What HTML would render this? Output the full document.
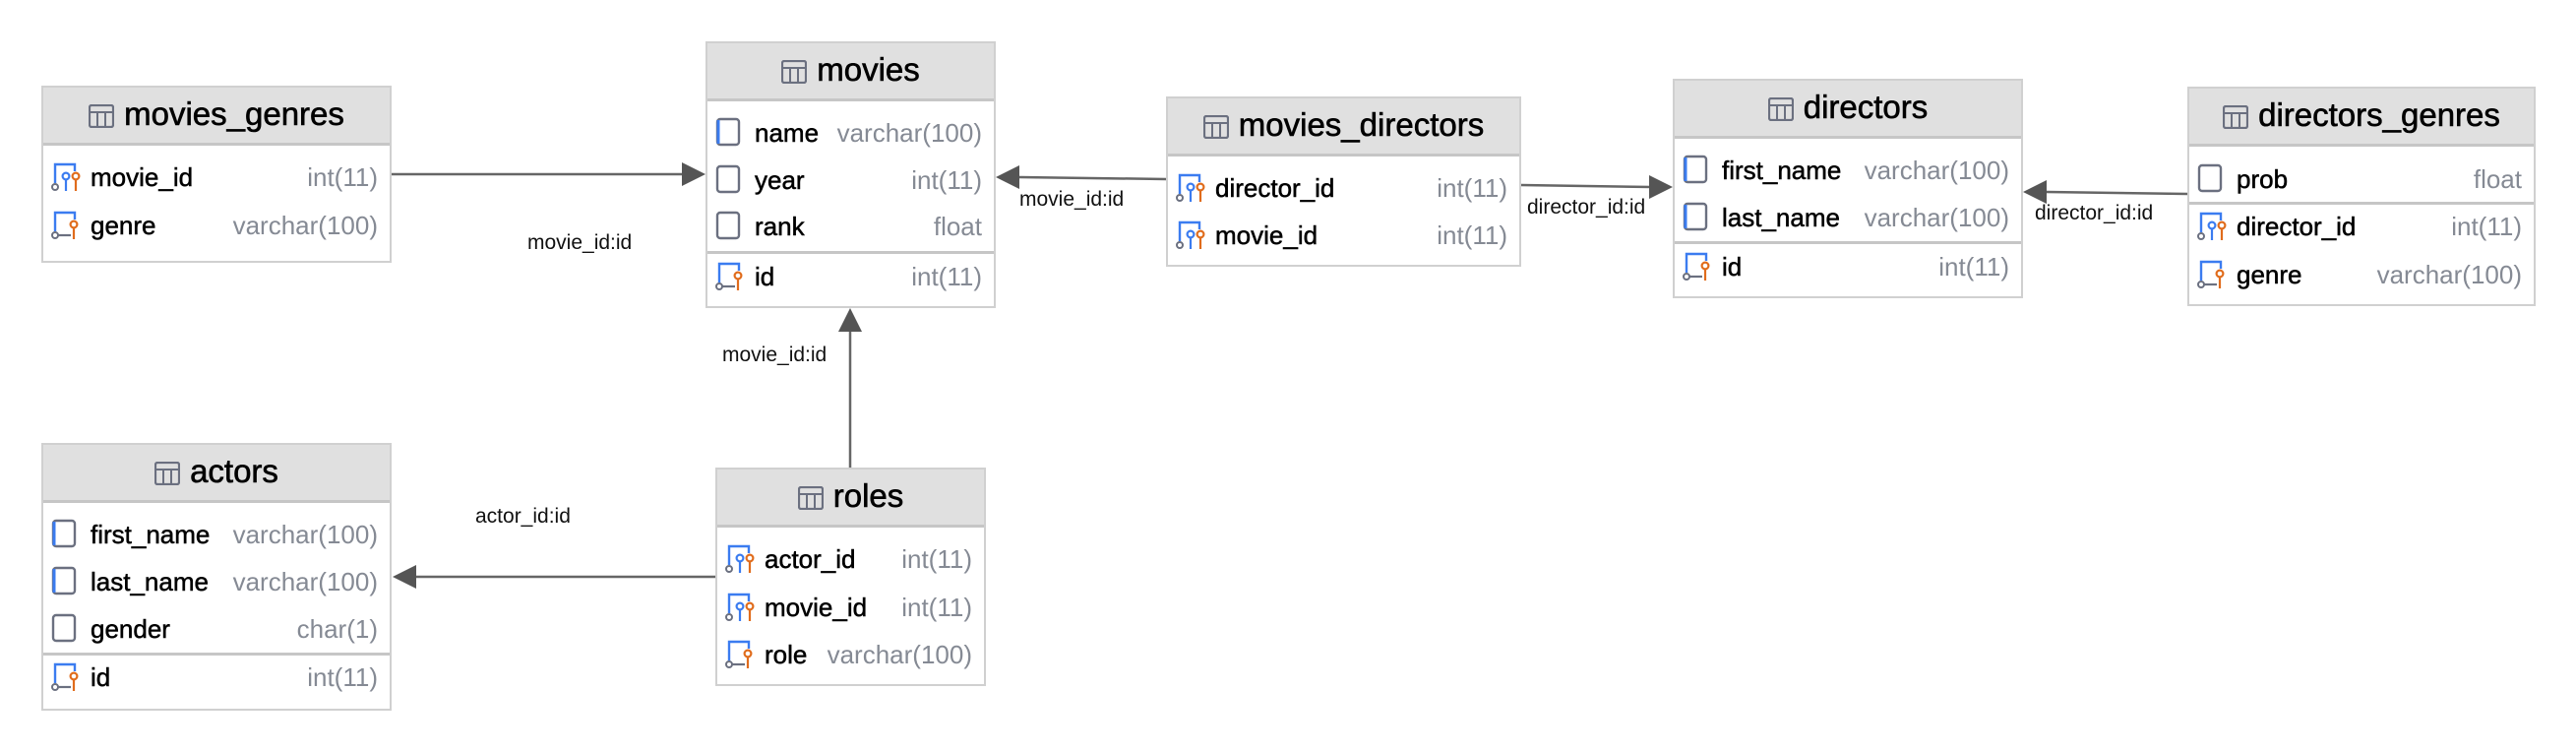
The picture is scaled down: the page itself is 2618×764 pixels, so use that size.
<!DOCTYPE html>
<html><head><meta charset="utf-8"><style>
html,body{margin:0;padding:0;background:#fff;width:2618px;height:764px;overflow:hidden;font-family:"Liberation Sans",sans-serif;}
.t{position:absolute;background:#fff;border:2px solid #d0d0d0;box-sizing:border-box;}
.h{position:absolute;left:0;right:0;top:0;height:59px;background:#e0e0e0;border-bottom:3px solid #c6c6c6;box-sizing:border-box;text-align:center;font-size:33px;line-height:54px;color:#000;white-space:nowrap;-webkit-text-stroke:0.6px #000;}
.h svg{vertical-align:-3px;margin-right:10px}
.r{position:absolute;left:0;right:0;height:40px;line-height:36px;font-size:26px;color:#000;white-space:nowrap;}
.r .n{position:absolute;left:48px;-webkit-text-stroke:0.5px #000;}
.r .y{position:absolute;right:12px;color:#858a94;}
.r svg{position:absolute;left:8px;top:2px;}
.d{position:absolute;left:0;right:0;height:3px;background:#c6c6c6;}
.lb{position:absolute;font-size:21px;color:#111;white-space:nowrap;}
</style></head><body>
<svg width="0" height="0" style="position:absolute">
<defs>
<g id="tb"><rect x="1" y="1" width="24" height="22" fill="none" stroke="#6b7080" stroke-width="2.2" rx="2"/><line x1="1" y1="8" x2="25" y2="8" stroke="#6b7080" stroke-width="2"/><line x1="9" y1="8" x2="9" y2="23" stroke="#6b7080" stroke-width="2"/><line x1="17" y1="8" x2="17" y2="23" stroke="#6b7080" stroke-width="2"/></g>
<g id="cb"><rect x="2" y="2" width="22" height="26" rx="3" fill="none" stroke="#6b7080" stroke-width="2.4"/><line x1="3" y1="3" x2="3" y2="27" stroke="#3b7cf0" stroke-width="3"/></g>
<g id="cg"><rect x="2" y="2" width="22" height="26" rx="3" fill="none" stroke="#6b7080" stroke-width="2.4"/></g>
<g id="fk"><path d="M4 22 V3 H24 V10" fill="none" stroke="#3b7cf0" stroke-width="2.4"/><circle cx="4" cy="26" r="3" fill="none" stroke="#6b7080" stroke-width="2"/><circle cx="15" cy="15" r="3.4" fill="none" stroke="#3b7cf0" stroke-width="2.2"/><line x1="15" y1="18" x2="15" y2="30" stroke="#3b7cf0" stroke-width="2.2"/><circle cx="25" cy="15" r="3.4" fill="none" stroke="#e06c1c" stroke-width="2.2"/><line x1="25" y1="18" x2="25" y2="30" stroke="#e06c1c" stroke-width="2.2"/></g>
<g id="pk"><path d="M4 22 V3 H24 V10" fill="none" stroke="#3b7cf0" stroke-width="2.4"/><circle cx="4" cy="26" r="3" fill="none" stroke="#6b7080" stroke-width="2"/><line x1="7" y1="26" x2="20" y2="26" stroke="#6b7080" stroke-width="2.2"/><circle cx="23" cy="15" r="3.4" fill="none" stroke="#e06c1c" stroke-width="2.2"/><line x1="23" y1="18" x2="23" y2="30" stroke="#e06c1c" stroke-width="2.2"/></g>
</defs></svg>

<svg style="position:absolute;left:0;top:0" width="2618" height="764">
<g stroke="#666" stroke-width="2.5" fill="none">
<line x1="398" y1="177" x2="696" y2="177"/>
<line x1="864" y1="475" x2="864" y2="336"/>
<line x1="1185" y1="182" x2="1036" y2="180"/>
<line x1="1546" y1="188" x2="1678" y2="190"/>
<line x1="2223" y1="197" x2="2080" y2="195"/>
<line x1="727" y1="586" x2="422" y2="586"/>
</g>
<g fill="#555">
<polygon points="717,177 693,165 693,189"/>
<polygon points="864,313 852,337 876,337"/>
<polygon points="1012,180 1036,168 1036,192"/>
<polygon points="1700,190 1676,178 1676,202"/>
<polygon points="2056,195 2080,183 2080,207"/>
<polygon points="399,586 423,574 423,598"/>
</g>
</svg>

<div class="lb" style="left:536px;top:235px">movie_id:id</div>
<div class="lb" style="left:734px;top:349px">movie_id:id</div>
<div class="lb" style="left:1036px;top:191px">movie_id:id</div>
<div class="lb" style="left:1552px;top:199px">director_id:id</div>
<div class="lb" style="left:2068px;top:205px">director_id:id</div>
<div class="lb" style="left:483px;top:513px">actor_id:id</div>

<div class="t" style="left:42px;top:87px;width:356px;height:180px">
<div class="h"><svg width="26" height="24"><use href="#tb"/></svg>movies_genres</div>
<div class="r" style="top:73px"><svg width="30" height="32"><use href="#fk"/></svg><span class="n">movie_id</span><span class="y">int(11)</span></div>
<div class="r" style="top:122px"><svg width="30" height="32"><use href="#pk"/></svg><span class="n">genre</span><span class="y">varchar(100)</span></div>
</div>

<div class="t" style="left:717px;top:42px;width:295px;height:271px">
<div class="h"><svg width="26" height="24"><use href="#tb"/></svg>movies</div>
<div class="r" style="top:73px"><svg width="30" height="32"><use href="#cb"/></svg><span class="n">name</span><span class="y">varchar(100)</span></div>
<div class="r" style="top:121px"><svg width="30" height="32"><use href="#cg"/></svg><span class="n">year</span><span class="y">int(11)</span></div>
<div class="r" style="top:168px"><svg width="30" height="32"><use href="#cg"/></svg><span class="n">rank</span><span class="y">float</span></div>
<div class="d" style="top:211px"></div>
<div class="r" style="top:219px"><svg width="30" height="32"><use href="#pk"/></svg><span class="n">id</span><span class="y">int(11)</span></div>
</div>

<div class="t" style="left:1185px;top:98px;width:361px;height:173px">
<div class="h"><svg width="26" height="24"><use href="#tb"/></svg>movies_directors</div>
<div class="r" style="top:73px"><svg width="30" height="32"><use href="#fk"/></svg><span class="n">director_id</span><span class="y">int(11)</span></div>
<div class="r" style="top:121px"><svg width="30" height="32"><use href="#fk"/></svg><span class="n">movie_id</span><span class="y">int(11)</span></div>
</div>

<div class="t" style="left:1700px;top:80px;width:356px;height:223px">
<div class="h"><svg width="26" height="24"><use href="#tb"/></svg>directors</div>
<div class="r" style="top:73px"><svg width="30" height="32"><use href="#cb"/></svg><span class="n">first_name</span><span class="y">varchar(100)</span></div>
<div class="r" style="top:121px"><svg width="30" height="32"><use href="#cb"/></svg><span class="n">last_name</span><span class="y">varchar(100)</span></div>
<div class="d" style="top:163px"></div>
<div class="r" style="top:171px"><svg width="30" height="32"><use href="#pk"/></svg><span class="n">id</span><span class="y">int(11)</span></div>
</div>

<div class="t" style="left:2223px;top:88px;width:354px;height:223px">
<div class="h"><svg width="26" height="24"><use href="#tb"/></svg>directors_genres</div>
<div class="r" style="top:74px"><svg width="30" height="32"><use href="#cg"/></svg><span class="n">prob</span><span class="y">float</span></div>
<div class="d" style="top:115px"></div>
<div class="r" style="top:122px"><svg width="30" height="32"><use href="#fk"/></svg><span class="n">director_id</span><span class="y">int(11)</span></div>
<div class="r" style="top:171px"><svg width="30" height="32"><use href="#pk"/></svg><span class="n">genre</span><span class="y">varchar(100)</span></div>
</div>

<div class="t" style="left:42px;top:450px;width:356px;height:272px">
<div class="h"><svg width="26" height="24"><use href="#tb"/></svg>actors</div>
<div class="r" style="top:73px"><svg width="30" height="32"><use href="#cb"/></svg><span class="n">first_name</span><span class="y">varchar(100)</span></div>
<div class="r" style="top:121px"><svg width="30" height="32"><use href="#cb"/></svg><span class="n">last_name</span><span class="y">varchar(100)</span></div>
<div class="r" style="top:169px"><svg width="30" height="32"><use href="#cg"/></svg><span class="n">gender</span><span class="y">char(1)</span></div>
<div class="d" style="top:211px"></div>
<div class="r" style="top:218px"><svg width="30" height="32"><use href="#pk"/></svg><span class="n">id</span><span class="y">int(11)</span></div>
</div>

<div class="t" style="left:727px;top:475px;width:275px;height:222px">
<div class="h"><svg width="26" height="24"><use href="#tb"/></svg>roles</div>
<div class="r" style="top:73px"><svg width="30" height="32"><use href="#fk"/></svg><span class="n">actor_id</span><span class="y">int(11)</span></div>
<div class="r" style="top:122px"><svg width="30" height="32"><use href="#fk"/></svg><span class="n">movie_id</span><span class="y">int(11)</span></div>
<div class="r" style="top:170px"><svg width="30" height="32"><use href="#pk"/></svg><span class="n">role</span><span class="y">varchar(100)</span></div>
</div>
</body></html>
